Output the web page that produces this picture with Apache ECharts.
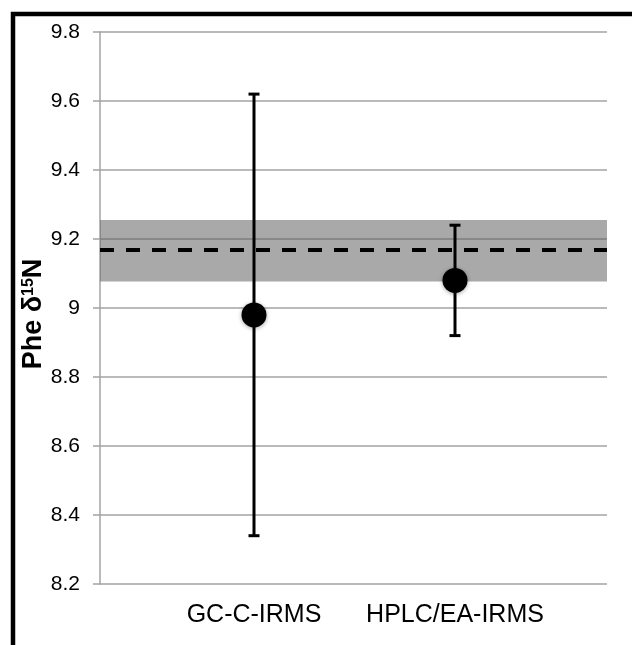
<!DOCTYPE html>
<html>
<head>
<meta charset="utf-8">
<script src="https://cdn.jsdelivr.net/npm/echarts@6/dist/echarts.min.js"></script>
<style>
html,body{margin:0;padding:0;background:#fff;}
#c{width:632px;height:645px;}
</style>
</head>
<body>
<div id="c"></div>
<script>
// ---- data ----
var categories = ['GC-C-IRMS', 'HPLC/EA-IRMS'];
var means = [8.98, 9.08];
var errLow = [8.34, 8.92];
var errHigh = [9.62, 9.24];
var refMean = 9.168;
var refLow = 9.077;
var refHigh = 9.255;
var yMin = 8.2, yMax = 9.8, yStep = 0.2;

var chart = echarts.init(document.getElementById('c'), null, {renderer: 'canvas'});
var FONT = '"Liberation Sans", Arial, sans-serif';
var GRID_COLOR = '#a3a3a3';

var pointData = categories.map(function (c, i) { return [i, means[i]]; });
var errData = categories.map(function (c, i) { return [i, errLow[i], errHigh[i]]; });

var option = {
  backgroundColor: '#fff',
  animation: false,
  grid: [
    {left: 100, right: 25, top: 32, bottom: 61},
    {left: 153.5, width: 402, top: 32, bottom: 61}
  ],
  xAxis: [
    {gridIndex: 0, type: 'value', min: 0, max: 1, show: false},
    {gridIndex: 1, type: 'category', data: categories, boundaryGap: true,
     axisLine: {show: false}, axisTick: {show: false}, splitLine: {show: false},
     axisLabel: {interval: 0, fontSize: 25, color: '#000', fontFamily: FONT, margin: 19}}
  ],
  yAxis: [
    {gridIndex: 0, type: 'value', min: yMin, max: yMax, interval: yStep,
     axisLine: {show: true, lineStyle: {color: GRID_COLOR, width: 1.5}},
     axisTick: {show: true, length: 7, lineStyle: {color: GRID_COLOR, width: 1.5}},
     splitLine: {show: true, lineStyle: {color: GRID_COLOR, width: 1.5}},
     axisLabel: {fontSize: 21, color: '#000', fontFamily: FONT, margin: 20}},
    {gridIndex: 1, type: 'value', min: yMin, max: yMax, show: false}
  ],
  graphic: [
    {type: 'rect', shape: {x: 13, y: 14, width: 800, height: 800},
     style: {fill: 'none', stroke: '#000', lineWidth: 4.5}, z: 100},
    {type: 'text', x: 34, y: 314, rotation: Math.PI / 2,
     style: {
       text: '{b|Phe δ}{s|15}{b|N}',
       align: 'center', verticalAlign: 'middle',
       rich: {
         b: {fontSize: 27, fontWeight: 'bold', fontFamily: FONT, fill: '#000', verticalAlign: 'bottom'},
         s: {fontSize: 16, fontWeight: 'bold', fontFamily: FONT, fill: '#000', verticalAlign: 'top', padding: [0, 0, 10, 0]}
       }
     }, z: 50}
  ],
  series: [
    {
      type: 'line', xAxisIndex: 0, yAxisIndex: 0,
      data: [[0.5, refMean]], symbolSize: 0, showSymbol: false,
      lineStyle: {width: 0}, silent: true, z: 1,
      markArea: {
        silent: true,
        itemStyle: {color: 'rgba(90,90,90,0.52)'},
        data: [[{yAxis: refLow}, {yAxis: refHigh}]]
      },
      markLine: {
        silent: true, symbol: ['none', 'none'], label: {show: false},
        lineStyle: {color: '#000', width: 3.8, type: [14, 12]},
        data: [{yAxis: refMean}]
      }
    },
    {
      type: 'custom', xAxisIndex: 1, yAxisIndex: 1, z: 5,
      data: errData,
      renderItem: function (params, api) {
        var x = api.value(0);
        var lo = api.coord([x, api.value(1)]);
        var hi = api.coord([x, api.value(2)]);
        var cap = 5.5;
        var st = {stroke: '#000', lineWidth: 3};
        return {
          type: 'group',
          children: [
            {type: 'line', shape: {x1: lo[0], y1: lo[1], x2: hi[0], y2: hi[1]}, style: st},
            {type: 'line', shape: {x1: hi[0] - cap, y1: hi[1], x2: hi[0] + cap, y2: hi[1]}, style: st},
            {type: 'line', shape: {x1: lo[0] - cap, y1: lo[1], x2: lo[0] + cap, y2: lo[1]}, style: st}
          ]
        };
      }
    },
    {
      type: 'scatter', xAxisIndex: 1, yAxisIndex: 1, z: 10,
      data: pointData, symbol: 'circle', symbolSize: 25,
      itemStyle: {color: '#000', opacity: 1, shadowBlur: 4, shadowColor: 'rgba(0,0,0,0.35)', shadowOffsetY: 1}
    }
  ]
};
chart.setOption(option);
</script>
</body>
</html>
